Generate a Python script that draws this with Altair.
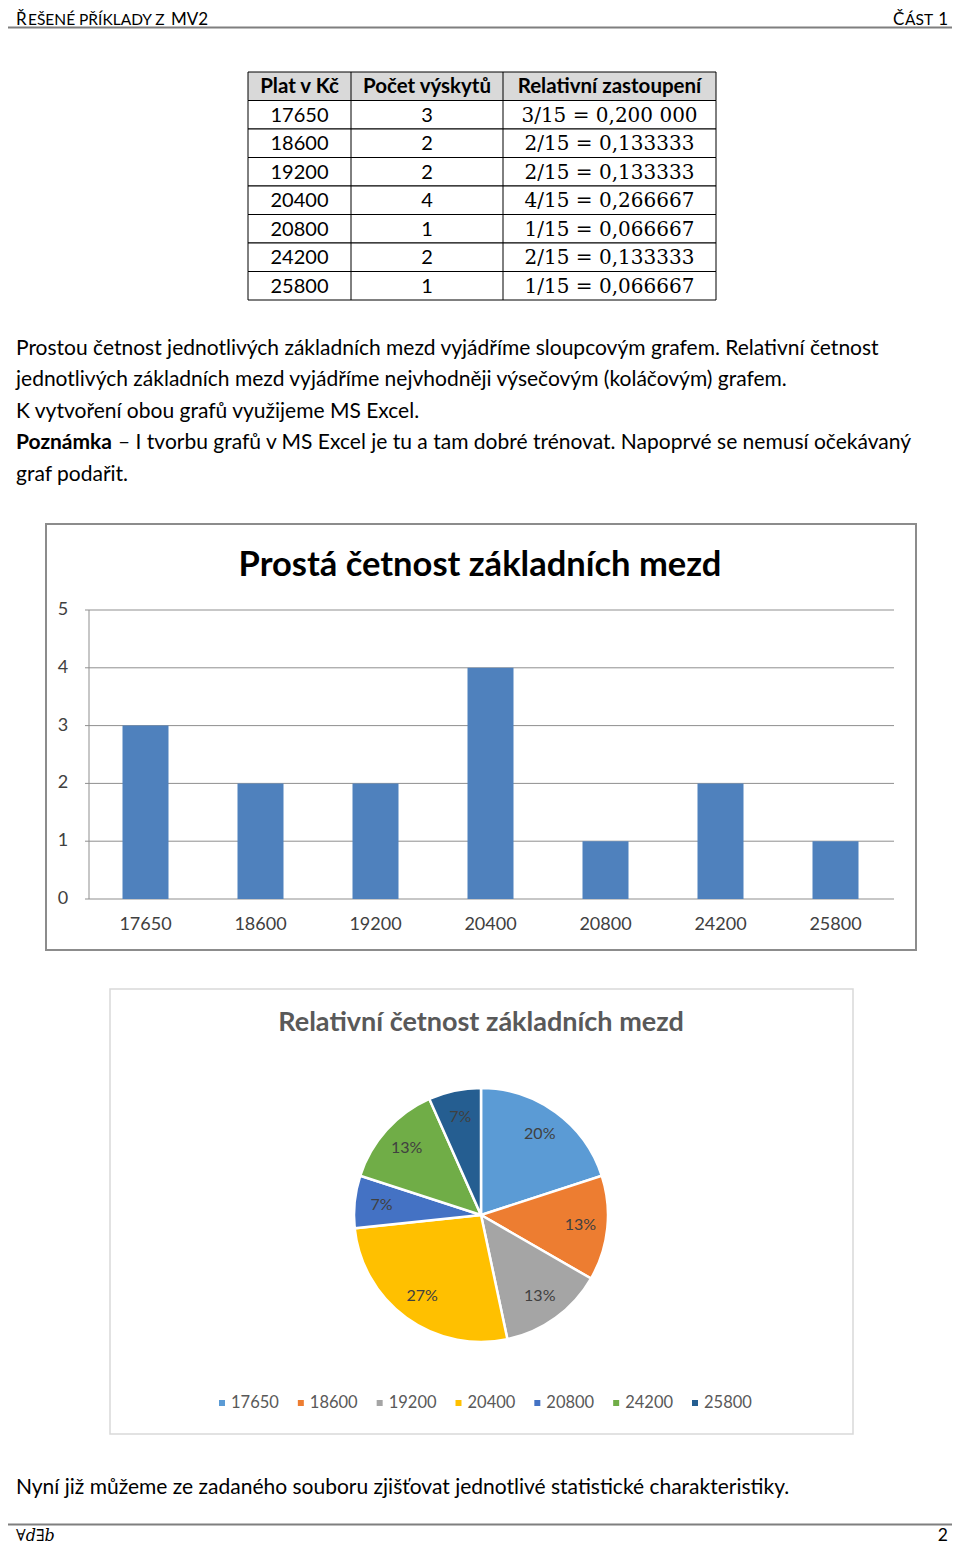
import altair as alt
import pandas as pd

# ---------------- data ----------------
plat = ["17650", "18600", "19200", "20400", "20800", "24200", "25800"]
pocet = [3, 2, 2, 4, 1, 2, 1]
relativni = ["3/15 = 0,200 000", "2/15 = 0,133333", "2/15 = 0,133333", "4/15 = 0,266667",
             "1/15 = 0,066667", "2/15 = 0,133333", "1/15 = 0,066667"]
procenta = ["20%", "13%", "13%", "27%", "7%", "13%", "7%"]
hlavicka = ["Plat v Kč", "Počet výskytů", "Relativní zastoupení"]
osa_y = [0, 1, 2, 3, 4, 5]
barvy_kolace = ["#5b9bd5", "#ed7d31", "#a5a5a5", "#ffc000", "#4472c4", "#70ad47", "#255e91"]
odstavec = [
    "Prostou četnost jednotlivých základních mezd vyjádříme sloupcovým grafem. Relativní četnost",
    "jednotlivých základních mezd vyjádříme nejvhodněji výsečovým (koláčovým) grafem.",
    "K vytvoření obou grafů využijeme MS Excel.",
]
poznamka_tucne = "Poznámka"
poznamka = ["– I tvorbu grafů v MS Excel je tu a tam dobré trénovat. Napoprvé se nemusí očekávaný",
            "graf podařit."]
zaver = "Nyní již můžeme ze zadaného souboru zjišťovat jednotlivé statistické charakteristiky."
titul_sloupce = "Prostá četnost základních mezd"
titul_kolac = "Relativní četnost základních mezd"

FONT = "Lato"
MATH = "DejaVu Serif"
W, H = 944, 1537
M = 8  # page margin; reference pixel -> chart pixel


def P(v):
    return v - M


one = pd.DataFrame({"a": [1]})


def txt(s, x, y, size, align="left", weight="normal", font=FONT, color="#000000",
        baseline="alphabetic", style="normal"):
    return alt.Chart(one).mark_text(
        text=s, align=align, baseline=baseline, fontSize=size, fontWeight=weight,
        font=font, color=color, fontStyle=style
    ).encode(x=alt.value(P(x)), y=alt.value(P(y)))


def hline(x1, x2, y, color, width=1):
    return alt.Chart(one).mark_rule(color=color, strokeWidth=width).encode(
        x=alt.value(P(x1)), x2=alt.value(P(x2)), y=alt.value(P(y)))


def vline(x, y1, y2, color, width=1):
    return alt.Chart(one).mark_rule(color=color, strokeWidth=width).encode(
        x=alt.value(P(x)), y=alt.value(P(y1)), y2=alt.value(P(y2)))


def box(x1, x2, y1, y2, stroke, width=1, fill="white"):
    return alt.Chart(one).mark_rect(fill=fill, stroke=stroke, strokeWidth=width).encode(
        x=alt.value(P(x1)), x2=alt.value(P(x2)), y=alt.value(P(y1)), y2=alt.value(P(y2)))


layers = []

# ---------------- page header ----------------
HB = 25
layers += [
    txt("Ř", 16, HB, 17),
    txt("EŠENÉ PŘÍKLADY Z", 28, HB, 15.5),
    txt("MV2", 171, HB, 17),
    txt("Č", 893, HB, 17),
    txt("ÁST", 905, HB, 15.5),
    txt("1", 948, HB, 17, align="right"),
    hline(0, 960, 27.5, "#7f7f7f", 2),
]

# ---------------- table ----------------
rows_sc = alt.Scale(type="band", domain=list(range(8)), range=[P(72), P(300)],
                    paddingInner=0, paddingOuter=0)
tab = pd.DataFrame({"r": list(range(8)), "hdr": [1] + [0] * 7})
layers.append(
    alt.Chart(tab).mark_rect(stroke="#000000", strokeWidth=1).encode(
        y=alt.Y("r:O", scale=rows_sc, axis=None),
        x=alt.value(P(248)), x2=alt.value(P(716)),
        fill=alt.condition(alt.datum.hdr == 1, alt.value("#d9d9d9"), alt.value("#ffffff")),
    )
)
layers += [vline(351, 72, 300, "#000000"), vline(503, 72, 300, "#000000")]
col_x = [299.5, 427, 609.5]
hdr_df = pd.DataFrame({"r": [0, 0, 0], "t": hlavicka, "c": [0, 1, 2]})
for i in range(3):
    layers.append(
        alt.Chart(hdr_df[hdr_df.c == i]).mark_text(
            font=FONT, fontSize=20.5, fontWeight="bold", align="center", baseline="middle", dy=1
        ).encode(y=alt.Y("r:O", scale=rows_sc, axis=None), x=alt.value(P(col_x[i])), text="t:N")
    )
body = pd.DataFrame({"r": list(range(1, 8)), "plat": plat, "pocet": pocet, "rel": relativni})
for i, (field, font, size) in enumerate([("plat", FONT, 20), ("pocet", FONT, 20), ("rel", MATH, 20)]):
    layers.append(
        alt.Chart(body).mark_text(font=font, fontSize=size, align="center", baseline="middle", dy=1).encode(
            y=alt.Y("r:O", scale=rows_sc, axis=None), x=alt.value(P(col_x[i])), text=f"{field}:N")
    )

# ---------------- paragraph ----------------
PS = 21
line_y = [355, 386, 418, 449, 481]
for i, s in enumerate(odstavec):
    layers.append(txt(s, 16, line_y[i], PS))
layers.append(txt(poznamka_tucne, 16, line_y[3], PS, weight="bold"))
layers.append(txt(poznamka[0], 118, line_y[3], PS))
layers.append(txt(poznamka[1], 16, line_y[4], PS))

# ---------------- bar chart ----------------
layers.append(box(46, 916, 524, 950, "#8c8c8c", 2))
layers.append(txt(titul_sloupce, 480, 576, 34.5, align="center", weight="bold"))
xs_bar = alt.Scale(type="band", domain=plat, range=[P(88), P(893)], paddingInner=0.6, paddingOuter=0.3)
ys_bar = alt.Scale(domain=[0, 5], range=[P(899), P(610)], nice=False, zero=True)
grid_df = pd.DataFrame({"v": osa_y})
layers.append(
    alt.Chart(grid_df).mark_rule(color="#8f8f8f", strokeWidth=1).encode(
        y=alt.Y("v:Q", scale=ys_bar, axis=None), x=alt.value(P(85)), x2=alt.value(P(894)))
)
layers.append(vline(89, 610, 899, "#8f8f8f"))
bar_df = pd.DataFrame({"plat": plat, "pocet": pocet})
layers.append(
    alt.Chart(bar_df).mark_bar(color="#4f81bd").encode(
        x=alt.X("plat:N", scale=xs_bar, axis=None, sort=None),
        y=alt.Y("pocet:Q", scale=ys_bar, axis=None))
)
layers.append(
    alt.Chart(grid_df).mark_text(font=FONT, fontSize=18, color="#404040", align="center", baseline="middle").encode(
        y=alt.Y("v:Q", scale=ys_bar, axis=None), x=alt.value(P(63)), text="v:Q")
)
layers.append(
    alt.Chart(bar_df).mark_text(font=FONT, fontSize=18, color="#404040", align="center", baseline="middle").encode(
        x=alt.X("plat:N", scale=xs_bar, axis=None, sort=None), y=alt.value(P(925)), text="plat:N")
)

# ---------------- pie chart ----------------
layers.append(box(110, 853, 989, 1434, "#d9d9d9", 1.5))
layers.append(txt(titul_kolac, 481, 1031, 27, align="center", weight="bold", color="#595959"))
pie_df = pd.DataFrame({"plat": plat, "pocet": pocet, "pct": procenta, "ord": list(range(7))})
col_sc = alt.Scale(domain=plat, range=barvy_kolace)
layers.append(
    alt.Chart(pie_df).mark_arc(outerRadius=127, stroke="#ffffff", strokeWidth=2.5).encode(
        theta=alt.Theta("pocet:Q", stack=True),
        color=alt.Color("plat:N", scale=col_sc, legend=None),
        order=alt.Order("ord:Q"),
        x=alt.value(P(481)), y=alt.value(P(1215)))
)
layers.append(
    alt.Chart(pie_df).mark_text(radius=100, font=FONT, fontSize=16, color="#404040",
                                align="center", baseline="middle").encode(
        theta=alt.Theta("pocet:Q", stack=True),
        order=alt.Order("ord:Q"),
        text="pct:N",
        x=alt.value(P(481)), y=alt.value(P(1215)))
)
leg_sc = alt.Scale(type="point", domain=plat, range=[P(222), P(695)], padding=0)
leg_df = pd.DataFrame({"plat": plat})
layers.append(
    alt.Chart(leg_df).mark_square(size=36, opacity=1).encode(
        x=alt.X("plat:N", scale=leg_sc, axis=None, sort=None),
        color=alt.Color("plat:N", scale=col_sc, legend=None),
        y=alt.value(P(1403)))
)
layers.append(
    alt.Chart(leg_df).mark_text(font=FONT, fontSize=16.5, color="#595959", align="left",
                                baseline="middle", dx=9).encode(
        x=alt.X("plat:N", scale=leg_sc, axis=None, sort=None),
        y=alt.value(P(1403)), text="plat:N")
)

# ---------------- closing text and footer ----------------
layers.append(txt(zaver, 16, 1494, PS))
layers.append(hline(0, 960, 1524.5, "#7f7f7f", 2))
layers.append(txt("∀d∃b", 16, 1541, 16, font=MATH, style="italic"))
layers.append(txt("2", 948, 1541, 17.5, align="right"))

chart = alt.layer(*layers).resolve_scale(x="independent", y="independent").properties(
    width=W, height=H, padding=0, autosize=alt.AutoSizeParams(type="none"), background="white"
).configure_view(stroke=None)

chart.save("out.html", embed_options={"renderer": "svg", "actions": False})
